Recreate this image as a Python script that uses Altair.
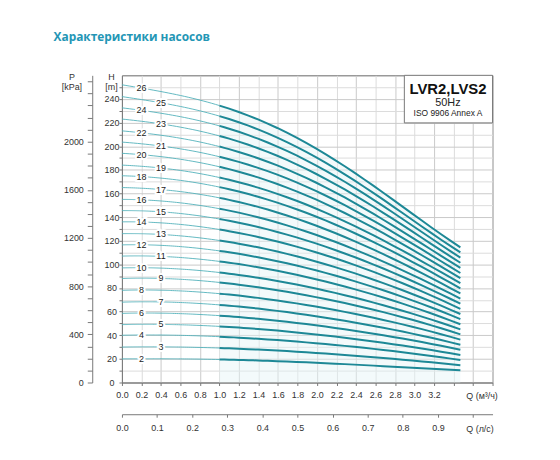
import altair as alt
import pandas as pd
import numpy as np

# ---------------- data ----------------
STAGES = list(range(2, 27))
Q_POINTS = [0.0, 1.0, 2.0, 2.8, 3.47]          # m3/h
H_Q0 = [20, 30, 40, 49, 58.5, 68, 78, 88, 97, 107, 116.5, 126, 136, 145.5, 155,
        165, 175, 184, 194, 203.5, 213, 223, 232.5, 242, 252]
H_Q1 = [19.5, 29.2, 38.8, 47.5, 56.6, 65.7, 75.2, 84.7, 93.1, 102.5, 111.4, 120.2,
        129.5, 138.4, 147.1, 156.3, 165.4, 173.5, 182.6, 191.1, 199.7, 208.7, 217.2,
        225.5, 234.4]
H_Q2 = [16.7, 25.0, 33.2, 40.6, 48.3, 56.0, 64.1, 72.1, 79.3, 87.2, 94.7, 102.2,
        110.0, 117.4, 124.7, 132.5, 140.1, 146.9, 154.5, 161.7, 168.8, 176.2, 183.3,
        190.2, 197.6]
H_Q28 = [13.3, 19.9, 26.4, 32.2, 38.3, 44.4, 50.7, 57.0, 62.6, 68.8, 74.7, 80.5,
         86.6, 92.3, 97.9, 103.9, 109.8, 115.0, 120.8, 126.3, 131.7, 137.3, 142.7,
         147.9, 153.5]
H_END = [10.3, 14.6, 19.0, 23.3, 27.7, 32.0, 36.3, 40.7, 45.0, 49.3, 53.7, 58.0,
         62.4, 66.7, 71.0, 75.4, 79.7, 84.1, 88.4, 92.7, 97.1, 101.4, 105.7, 110.1,
         114.4]
Q_START = 0.0
THICK_FROM_Q = 1.0
Q_END = 3.47
LABEL_Q_EVEN = 0.2
LABEL_Q_ODD = 0.4

X_TICKS = [round(0.2 * i, 1) for i in range(20)]          # 0.0 .. 3.8
H_TICKS = list(range(0, 260, 10))                          # 0 .. 250
P_TICKS = list(range(0, 2600, 100))                        # kPa
LS_TICKS = [round(0.1 * i, 1) for i in range(11)]          # l/s
X_MAX = 3.8
H_MAX = 260
KPA_PER_M = 9.81
M3H_PER_LS = 3.6

TITLE = "Характеристики насосов"
LEGEND_TITLE = "LVR2,LVS2"
LEGEND_FREQ = "50Hz"
LEGEND_STD = "ISO 9906 Annex A"

# ---------------- tables ----------------
cols = [H_Q0, H_Q1, H_Q2, H_Q28, H_END]
rows = []
for i, s in enumerate(STAGES):
    for j, q in enumerate(Q_POINTS):
        rows.append({"stage": s, "Q": q, "H": cols[j][i]})
df = pd.DataFrame(rows)
df_top = df[df["stage"] == max(STAGES)]

lab = []
for i, s in enumerate(STAGES):
    q = LABEL_Q_EVEN if s % 2 == 0 else LABEL_Q_ODD
    coef = np.polyfit(Q_POINTS, [c[i] for c in cols], 4)
    lab.append({"stage": str(s), "Q": q, "H": float(np.polyval(coef, q))})
df_lab = pd.DataFrame(lab)

FONT = "Liberation Sans"
AX = dict(labelFont=FONT, labelFontSize=9, labelColor="#333", titleFont=FONT,
          titleFontSize=9, titleFontWeight="normal", titleColor="#333",
          tickColor="#777", domainColor="#777", labelOverlap=False)

xenc = alt.X("Q:Q", scale=alt.Scale(domain=[0, X_MAX], nice=False, zero=False),
             axis=alt.Axis(values=X_TICKS, format=".1f", labelFlush=False,
                           labelExpr="datum.value > 3.3 ? '' : datum.label",
                           tickSize=3, labelPadding=5.5, grid=True,
                           gridColor={"condition": {"test": "round(datum.value*10) % 4 == 0",
                                                    "value": "#c9c9c9"}, "value": "#dcdcdc"},
                           title="Q (м³/ч)", titleX=347, titleY=13, titleAlign="left",
                           titleBaseline="middle", **AX))
yenc = alt.Y("H:Q", scale=alt.Scale(domain=[0, H_MAX], nice=False),
             axis=alt.Axis(values=H_TICKS,
                           labelExpr="datum.value % 20 == 0 && datum.value <= 240 ? datum.label : ''",
                           labelAlign="center", tickSize=3, labelPadding=7.5, grid=True,
                           gridColor={"condition": {"test": "datum.value % 20 == 0",
                                                    "value": "#c9c9c9"}, "value": "#dcdcdc"},
                           title=["H", "[m]"], titleAngle=0, titleX=-11, titleY=-3,
                           titleAlign="center", titleBaseline="top", titleLineHeight=10,
                           **AX))


def curves(data, extent):
    return alt.Chart(data).transform_regression(
        "Q", "H", groupby=["stage"], method="poly", order=4, extent=extent)


fill = curves(df_top, [THICK_FROM_Q, Q_END]).mark_area(
    color="#e4f4f7", opacity=0.45).encode(x=xenc, y=yenc)
thin = curves(df, [Q_START, THICK_FROM_Q]).mark_line(
    color="#52b1bb", strokeWidth=0.9).encode(x=xenc, y=yenc, detail="stage:N")
thick = curves(df, [THICK_FROM_Q, Q_END]).mark_line(
    color="#1d8896", strokeWidth=2).encode(x=xenc, y=yenc, detail="stage:N")
halo = alt.Chart(df_lab).mark_text(font=FONT, fontSize=9, color="white", stroke="white",
                                   strokeWidth=4).encode(x=xenc, y=yenc, text="stage:N")
labels = alt.Chart(df_lab).mark_text(font=FONT, fontSize=9, color="#222").encode(
    x=xenc, y=yenc, text="stage:N")

box = alt.Chart(pd.DataFrame({"t": [LEGEND_TITLE]})).mark_rect(
    fill="white", stroke="#777", strokeWidth=1).encode(
    x=alt.value(285), x2=alt.value(374), y=alt.value(0), y2=alt.value(48))
t1 = alt.Chart(pd.DataFrame({"t": [LEGEND_TITLE]})).mark_text(
    font=FONT, fontSize=15, fontWeight="bold", color="#111").encode(
    text="t:N", x=alt.value(329), y=alt.value(13.5))
t2 = alt.Chart(pd.DataFrame({"t": [LEGEND_FREQ]})).mark_text(
    font=FONT, fontSize=11, color="#222").encode(text="t:N", x=alt.value(329), y=alt.value(27.5))
t3 = alt.Chart(pd.DataFrame({"t": [LEGEND_STD]})).mark_text(
    font=FONT, fontSize=8.5, color="#222").encode(text="t:N", x=alt.value(329), y=alt.value(38))

main = alt.layer(fill, thin, thick, halo, labels, box, t1, t2, t3)

p_layer = alt.Chart(pd.DataFrame({"P": [0]})).mark_point(opacity=0).encode(
    y=alt.Y("P:Q", scale=alt.Scale(domain=[0, H_MAX * KPA_PER_M], nice=False),
            axis=alt.Axis(orient="left", offset=30, values=P_TICKS, format="d",
                          labelExpr="datum.value % 400 == 0 && datum.value <= 2000 ? datum.label : ''",
                          tickSize=5, labelPadding=4, grid=False,
                          title=["P", "[kPa]"], titleAngle=0, titleX=-21, titleY=-3,
                          titleAlign="center", titleBaseline="top", titleLineHeight=10,
                          **AX)))

ls_layer = alt.Chart(pd.DataFrame({"Qls": [0]})).mark_point(opacity=0).encode(
    x=alt.X("Qls:Q", scale=alt.Scale(domain=[0, X_MAX / M3H_PER_LS], nice=False, zero=False),
            axis=alt.Axis(orient="bottom", offset=32, values=LS_TICKS, format=".1f",
                          labelFlush=False,
                          labelExpr="datum.value > 0.95 ? '' : datum.label",
                          tickSize=3, labelPadding=6.5, grid=False,
                          title="Q (л/с)", titleX=347, titleY=14, titleAlign="left",
                          titleBaseline="middle", **AX)))

chart = alt.layer(main, p_layer, ls_layer).resolve_scale(
    x="independent", y="independent"
).properties(
    width=374, height=310,
    autosize=alt.AutoSizeParams(type="none"),
    padding={"left": 115, "top": 66, "right": 60, "bottom": 50},
    title=alt.TitleParams(TITLE, anchor="start", frame="group", dx=-69, offset=24,
                          fontSize=12, fontWeight="bold", color="#2396b5",
                          font="Open Sans", baseline="middle"),
).configure_view(stroke="#666", strokeWidth=1)

chart.save("out.html", embed_options={"renderer": "svg", "actions": False})
